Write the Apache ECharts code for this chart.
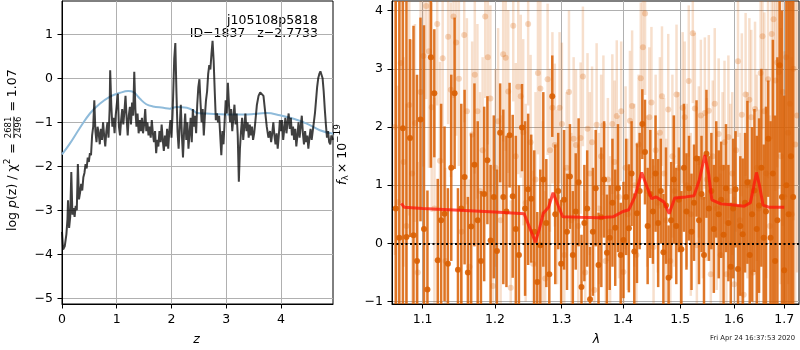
<!DOCTYPE html>
<html><head><meta charset="utf-8">
<script src="https://cdn.jsdelivr.net/npm/echarts@6/dist/echarts.min.js"></script>
<style>html,body{margin:0;padding:0;background:#fff}#c{width:800px;height:350px}</style>
</head><body><div id="c"></div>
<script>
// ---------- left panel: log p(z) ----------
const zGrid = [0.00,0.02,0.05,0.08,0.10,0.11,0.13,0.15,0.17,0.19,0.21,0.23,0.25,0.27,0.29,0.31,0.33,0.35,0.37,0.39,
0.41,0.43,0.45,0.47,0.49,0.51,0.53,0.55,0.57,0.59,0.61,0.63,0.65,0.67,0.69,0.71,0.73,0.75,0.77,0.79,
0.81,0.83,0.85,0.87,0.88,0.90,0.92,0.94,0.96,0.98,1.00,1.02,1.04,1.06,1.08,1.10,1.12,1.14,1.16,1.18,
1.20,1.22,1.24,1.26,1.28,1.30,1.32,1.34,1.36,1.38,1.40,1.42,1.44,1.46,1.48,1.50,1.52,1.54,1.56,1.58,
1.60,1.62,1.64,1.66,1.68,1.70,1.72,1.74,1.76,1.78,1.80,1.82,1.84,1.86,1.88,1.90,1.92,1.94,1.96,1.98,
2.00,2.02,2.03,2.05,2.07,2.09,2.11,2.13,2.15,2.17,2.19,
2.21,2.23,2.25,2.27,2.29,2.31,2.33,2.35,2.37,2.39,2.41,2.43,2.45,2.47,2.49,2.51,2.53,2.55,2.57,2.59,
2.61,2.63,2.65,2.67,2.69,2.71,2.73,2.75,2.77,2.79,2.81,2.83,2.85,2.87,2.89,2.91,2.93,2.95,2.97,2.99,
3.01,3.03,3.05,3.07,3.09,3.11,3.13,3.15,3.17,3.19,3.21,3.23,3.25,3.27,3.29,3.31,3.33,3.35,3.37,3.39,
3.41,3.43,3.45,3.47,3.49,3.51,3.53,3.56,3.59,3.62,3.65,3.68,3.71,3.74,3.77,3.80,3.82,3.84,3.86,3.88,
3.90,3.92,3.94,3.96,3.98,4.00,4.02,4.04,4.06,4.08,4.10,4.12,4.14,4.16,4.18,4.20,4.22,4.24,4.26,4.28,
4.30,4.32,4.34,4.36,4.38,4.40,4.42,4.44,4.46,4.48,4.50,4.52,4.54,4.56,4.58,4.60,4.62,4.64,4.66,4.68,
4.70,4.72,4.74,4.76,4.78,4.80,4.82,4.84,4.86,4.88,4.90,4.92,4.95];
const logPz = [-3.49,-3.89,-3.82,-3.55,-3.20,-2.77,-3.40,-3.15,-2.13,-3.10,-2.95,-3.15,-2.90,-3.00,-1.95,-2.75,-2.60,-2.40,-2.55,-2.25,
-2.15,-1.95,-2.05,-1.80,-1.90,-1.70,-1.75,-1.30,-1.10,-0.50,-1.20,-1.45,-1.10,-1.25,-1.50,-1.15,-1.40,-1.00,-1.30,-1.55,
-1.20,-1.00,-1.35,-0.70,0.18,-0.60,-1.10,-0.90,-1.25,-0.85,-0.60,-0.35,-1.10,-1.30,-0.95,-0.70,-1.05,-0.75,-0.40,-0.90,
-1.30,-0.85,-0.65,-1.05,-0.55,-0.85,0.15,-0.70,-1.10,-0.80,-1.25,-0.95,-1.20,-0.90,-1.25,-1.05,-0.70,-1.20,-1.00,-1.30,
-1.10,-1.35,-0.95,-1.25,-1.45,-1.20,-1.70,-1.40,-1.55,-1.20,-1.45,-1.05,-1.40,-1.65,-1.30,-1.55,-1.15,-1.60,-1.20,-0.95,
-1.35,-0.80,-0.40,0.45,0.80,-0.30,-1.20,-1.60,-1.10,-0.60,-1.30,
-1.80,-1.20,-0.80,-1.40,-1.00,-1.60,-1.25,-0.90,-1.45,-0.70,-1.10,-0.85,-1.25,-0.60,-0.20,-0.02,-0.55,-1.00,-0.70,-1.30,
-0.85,-0.50,-0.30,0.10,0.30,0.20,0.55,0.85,0.40,-0.30,-0.95,-0.80,-1.00,-0.85,-1.30,-1.75,-1.20,-1.50,-1.00,-0.50,
-0.80,-0.10,-0.60,-1.00,-0.70,-1.20,-0.90,-0.60,-1.05,-0.80,-1.30,-2.35,-1.60,-1.20,-0.90,-1.40,-1.10,-0.80,-1.20,-1.00,
-1.35,-1.05,-1.30,-1.10,-1.40,-1.25,-1.00,-0.60,-0.40,-0.32,-0.29,-0.40,-0.75,-1.10,-1.35,-1.20,-1.45,-1.25,-1.00,-1.30,
-1.50,-1.25,-1.60,-1.30,-0.95,-1.20,-0.95,-1.40,-1.15,-0.90,-1.25,-1.00,-0.80,-1.15,-0.90,-1.30,-1.10,-1.40,-1.15,-1.55,
-1.30,-1.00,-1.35,-1.10,-0.85,-1.25,-1.50,-1.20,-1.45,-1.30,-1.60,-1.35,-1.15,-1.40,-1.20,-1.00,-0.80,-0.50,-0.20,0.00,
0.10,0.16,0.14,0.00,-0.30,-0.70,-1.05,-1.35,-1.20,-1.45,-1.50,-1.30,-1.40];
const zSmooth = [0.00,0.14,0.32,0.51,0.69,0.87,1.06,1.21,1.30,1.42,1.54,1.66,1.85,1.97,2.09,2.28,2.40,2.46,2.64,3.01,3.37,3.74,3.98,4.23,4.47,4.71,4.95];
const logPzSmooth = [-1.73,-1.49,-1.14,-0.80,-0.58,-0.42,-0.33,-0.29,-0.31,-0.46,-0.59,-0.64,-0.67,-0.69,-0.65,-0.67,-0.73,-0.79,-0.80,-0.82,-0.82,-0.79,-0.84,-0.92,-1.03,-1.18,-1.26];
const zTicks = [0,1,2,3,4];
const pzTicks = [-5,-4,-3,-2,-1,0,1];

// ---------- right panel: spectrum ----------
const lamTicks = [1.1,1.2,1.3,1.4,1.5,1.6,1.7];
const fluxTicks = [-1,0,1,2,3,4];
const darkLam = [1.0650,1.0696,1.0742,1.0788,1.0834,1.0880,1.0926,1.0972,1.1018,1.1064,
1.1110,1.1156,1.1202,1.1248,1.1294,1.1340,1.1386,1.1432,1.1478,1.1524,
1.1570,1.1616,1.1662,1.1708,1.1754,1.1800,1.1846,1.1892,1.1938,1.1984,
1.2030,1.2076,1.2122,1.2168,1.2214,1.2260,1.2306,1.2352,1.2398,1.2444,
1.2490,1.2536,1.2582,1.2628,1.2674,1.2720,1.2766,1.2812,1.2858,1.2904,
1.2950,1.2996,1.3042,1.3088,1.3134,1.3180,1.3226,1.3272,1.3318,1.3364,
1.3410,1.3456,1.3502,1.3548,1.3594,1.3640,1.3686,1.3732,1.3778,1.3824,
1.3870,1.3916,1.3962,1.4008,1.4054,1.4100,1.4146,1.4192,1.4238,1.4284,
1.4330,1.4376,1.4422,1.4468,1.4514,1.4560,1.4606,1.4652,1.4698,1.4744,
1.4790,1.4836,1.4882,1.4928,1.4974,1.5020,1.5066,1.5112,1.5158,1.5204,
1.5250,1.5296,1.5342,1.5388,1.5434,1.5480,1.5526,1.5572,1.5618,1.5664,
1.5710,1.5756,1.5802,1.5848,1.5894,1.5940,1.5986,1.6032,1.6078,1.6124,
1.6170,1.6216,1.6262,1.6308,1.6354,1.6400,1.6446,1.6492,1.6538,1.6584,
1.6630,1.6676,1.6722,1.6768,1.6814,1.6860,1.6906,1.6952,1.6998,1.7044,
1.7090,1.7136,1.7182];
const darkFlux = [0.6,0.1,1.98,0.11,1.81,0.14,-0.3,2.13,0.25,-0.79,
3.2,2.58,-0.29,0.4,0.51,-0.35,1.3,2.58,-0.45,0.6,
1.14,-0.5,0.29,1.35,0.4,-0.3,0.85,1.43,0.05,0.8,
-0.13,1.9,0.8,0.55,1.86,0.81,0.25,-0.2,1.99,0.6,
0.93,0.77,0.2,-0.66,-0.03,1.1,0.35,-0.53,2.53,0.5,
0.9,-0.35,0.75,0.2,1.15,-0.2,0.55,1.05,-0.75,0.35,
0.6,-0.96,0.2,0.95,-0.37,0.45,1.1,-0.16,0.1,0.7,
0.27,0.95,-0.2,0.06,0.8,0.26,1.2,-0.14,0.52,0.9,
2.05,1.57,0.3,0.85,0.55,1.2,0.35,0.9,-0.15,0.65,
-0.59,0.4,1.1,0.3,0.75,-0.1,1.3,0.55,0.95,0.2,
0.7,1.46,0.4,0.85,-0.2,1.54,0.6,0.9,0.25,1.1,
0.5,0.75,0.15,0.95,0.35,-0.4,0.6,0.93,-0.44,0.3,
0.16,0.7,1.05,-0.2,0.5,0.91,0.25,0.65,1.3,0.1,
0.55,1.8,0.1,1.2,-0.3,0.4,3.06,0.8,-0.46,1.0,
0.5,1.5,0.8];
const darkErr = [4.8,4.5,3.5,4.2,1.7,3.6,3.2,1.75,3.5,1.7,
1.9,1.1,1.4,2.0,1.5,1.3,1.6,1.3,1.4,1.8,
1.5,1.3,1.6,1.4,1.7,1.2,1.5,1.1,1.3,1.4,
1.4,0.85,1.5,1.3,0.9,1.4,1.6,1.2,0.75,1.5,
1.3,1.1,1.4,1.2,1.3,1.5,1.1,1.3,0.7,1.2,
1.0,1.1,1.2,1.0,0.9,1.1,1.0,1.1,0.9,1.0,
1.0,0.9,1.1,1.0,0.9,1.2,1.0,1.0,0.9,1.1,
1.0,1.1,0.9,1.0,1.0,1.1,0.9,1.0,1.2,1.0,
0.6,0.9,1.0,1.1,0.9,1.0,1.1,0.9,1.0,1.0,
0.9,1.0,1.1,1.0,0.9,1.0,1.1,1.0,0.9,1.0,
1.0,1.0,1.1,1.0,1.0,1.1,0.9,1.0,1.1,1.0,
1.1,1.0,1.2,1.1,1.0,1.1,1.2,1.0,1.1,1.2,
1.3,1.2,1.4,1.3,1.5,1.4,1.6,1.5,1.7,1.6,
1.8,1.0,2.0,2.3,2.5,2.8,1.5,3.2,3.0,5.0,
5.0,5.0,5.0];
const lightLam = [1.0640,1.0677,1.0714,1.0751,1.0788,1.0825,1.0862,1.0899,1.0936,1.0973,
1.1010,1.1047,1.1084,1.1121,1.1158,1.1195,1.1232,1.1269,1.1306,1.1343,
1.1380,1.1417,1.1454,1.1491,1.1528,1.1565,1.1602,1.1639,1.1676,1.1713,
1.1750,1.1787,1.1824,1.1861,1.1898,1.1935,1.1972,1.2009,1.2046,1.2083,
1.2120,1.2157,1.2194,1.2231,1.2268,1.2305,1.2342,1.2379,1.2416,1.2453,
1.2490,1.2527,1.2564,1.2601,1.2638,1.2675,1.2712,1.2749,1.2786,1.2823,
1.2860,1.2897,1.2934,1.2971,1.3008,1.3045,1.3082,1.3119,1.3156,1.3193,
1.3230,1.3267,1.3304,1.3341,1.3378,1.3415,1.3452,1.3489,1.3526,1.3563,
1.3600,1.3637,1.3674,1.3711,1.3748,1.3785,1.3822,1.3859,1.3896,1.3933,
1.3970,1.4007,1.4044,1.4081,1.4118,1.4155,1.4192,1.4229,1.4266,1.4303,
1.4340,1.4377,1.4414,1.4451,1.4488,1.4525,1.4562,1.4599,1.4636,1.4673,
1.4710,1.4747,1.4784,1.4821,1.4858,1.4895,1.4932,1.4969,1.5006,1.5043,
1.5080,1.5117,1.5154,1.5191,1.5228,1.5265,1.5302,1.5339,1.5376,1.5413,
1.5450,1.5487,1.5524,1.5561,1.5598,1.5635,1.5672,1.5709,1.5746,1.5783,
1.5820,1.5857,1.5894,1.5931,1.5968,1.6005,1.6042,1.6079,1.6116,1.6153,
1.6190,1.6227,1.6264,1.6301,1.6338,1.6375,1.6412,1.6449,1.6486,1.6523,
1.6560,1.6597,1.6634,1.6671,1.6708,1.6745,1.6782,1.6819,1.6856,1.6893,
1.6930,1.6967,1.7004,1.7041,1.7078,1.7115,1.7152,1.7189,1.7226,1.7263];
const lightFlux = [2.0,0.71,3.1,1.4,0.3,2.38,1.2,2.07,-0.5,2.6,
3.22,4.08,3.3,2.34,0.6,3.77,1.42,3.18,-0.3,3.55,
2.64,3.9,3.45,2.83,0.2,3.58,2.27,-0.4,1.87,2.9,
2.27,0.9,1.6,3.9,3.2,2.49,-0.73,1.3,2.1,0.4,
3.25,3.19,2.61,-0.76,3.74,1.5,2.69,2.53,1.91,0.7,
3.77,1.74,-0.35,1.1,2.93,2.66,0.5,-0.6,2.82,1.6,
2.33,1.69,0.8,2.33,2.05,-0.2,1.3,2.6,0.4,1.8,
1.69,0.3,1.81,2.87,-0.5,1.97,1.2,1.74,-0.8,2.04,
0.6,1.5,2.03,-0.3,1.1,0.2,2.05,1.4,2.19,0.8,
2.27,-0.49,1.3,0.5,2.11,2.36,1.0,-0.2,1.7,2.84,
3.37,3.95,0.9,2.17,2.42,-0.06,1.6,0.7,1.9,2.53,
1.2,0.4,2.30,-0.3,1.5,0.9,2.56,1.3,-0.1,2.33,
2.17,1.0,2.79,0.5,3.61,2.32,-0.03,1.4,2.2,0.8,
2.24,1.1,2.28,-0.53,1.5,2.4,0.6,1.88,-0.2,1.3,
1.74,-0.53,1.83,0.9,1.2,-0.7,1.6,3.13,0.4,2.21,
-0.88,2.56,1.0,2.47,2.17,-0.5,2.31,1.3,0.6,2.93,
3.56,2.27,1.2,2.82,0.3,3.6,3.85,2.80,3.11,2.94,
1.5,2.6,0.8,3.2,1.9,2.4,0.5,3.0,1.7,2.2];
const lightErr = [2.2,2.0,2.4,1.8,2.1,1.9,2.3,1.7,1.9,2.0,
1.9,1.6,2.0,1.8,1.9,1.4,1.7,1.8,1.6,1.5,
1.5,1.4,1.6,1.5,1.8,1.5,1.6,1.5,1.6,1.7,
1.5,1.7,1.6,1.4,1.5,1.6,1.5,1.7,1.6,1.8,
1.5,1.6,1.4,1.5,1.3,1.6,1.5,1.4,1.6,1.7,
1.4,1.5,1.6,1.5,1.4,1.5,1.6,1.5,1.3,1.4,
1.3,1.4,1.5,1.3,1.4,1.5,1.3,1.4,1.5,1.4,
1.3,1.4,1.3,1.2,1.4,1.3,1.4,1.3,1.3,1.4,
1.3,1.4,1.2,1.3,1.4,1.3,1.2,1.4,1.3,1.4,
1.2,1.3,1.4,1.3,1.2,1.3,1.4,1.3,1.2,1.3,
1.3,1.4,1.3,1.2,1.3,1.4,1.3,1.2,1.3,1.2,
1.3,1.4,1.3,1.3,1.4,1.3,1.2,1.3,1.4,1.3,
1.3,1.4,1.3,1.4,1.2,1.3,1.4,1.3,1.3,1.4,
1.3,1.4,1.3,1.4,1.3,1.3,1.4,1.3,1.4,1.3,
1.4,1.3,1.4,1.5,1.4,1.5,1.4,1.3,1.5,1.4,
1.5,1.4,1.6,1.4,1.5,1.6,1.5,1.6,1.7,1.5,
1.6,1.7,1.8,1.7,1.9,1.8,1.7,1.9,1.8,2.0,
2.2,2.3,2.5,2.4,2.6,2.5,2.7,2.6,2.8,2.7];
const modelLam = [1.072,1.076,1.10,1.15,1.20,1.243,1.252,1.260,1.266,1.272,1.280,1.287,1.295,1.302,1.33,1.36,1.384,1.40,1.41,1.42,
1.432,1.44,1.449,1.457,1.471,1.48,1.49,1.51,1.525,1.535,1.545,1.552,1.558,1.575,1.60,1.62,1.632,1.638,1.644,1.65,1.657,1.67,1.70];
const modelFlux = [0.69,0.62,0.60,0.57,0.54,0.51,0.25,0.02,0.25,0.52,0.62,0.87,0.65,0.46,0.45,0.44,0.46,0.55,0.58,0.80,
1.22,1.00,0.77,0.80,0.71,0.51,0.78,0.80,0.82,1.10,1.52,1.20,0.75,0.68,0.66,0.64,0.70,0.95,1.22,1.00,0.66,0.62,0.62];

// ---------- helpers ----------
const FF = '"DejaVu Sans"';
const mctx = document.createElement('canvas').getContext('2d');
function tw(t, font) { mctx.font = font; return mctx.measureText(t).width; }
const fmtNum = v => String(v).replace('-', '\u2212');

function mkAxis(o) {
  const base = {
    axisLine: {show: true, onZero: false, lineStyle: {color: '#000', width: 1}},
    axisTick: {show: true, length: 4.5, lineStyle: {color: '#000', width: 1}, customValues: o.ticks},
    axisLabel: {color: '#000', fontSize: 12.5, fontFamily: 'DejaVu Sans', margin: 9, customValues: o.ticks,
                formatter: o.fmt || fmtNum, hideOverlap: false, showMinLabel: true, showMaxLabel: true},
    splitLine: {show: true, lineStyle: {color: '#b0b0b0', width: 1}},
  };
  delete o.ticks; delete o.fmt;
  return Object.assign(base, o);
}

function errRender(barColor, markColor, lw, r) {
  return function (params, api) {
    const x = api.value(0), y = api.value(1), e = api.value(2);
    const lo = api.coord([x, y - e]), hi = api.coord([x, y + e]), c = api.coord([x, y]);
    return {type: 'group', children: [
      {type: 'line', shape: {x1: lo[0], y1: lo[1], x2: hi[0], y2: hi[1]}, style: {stroke: barColor, lineWidth: lw}},
      {type: 'circle', shape: {cx: c[0], cy: c[1], r: r}, style: {fill: markColor}}
    ]};
  };
}

// ---------- axis-title graphics ----------
const F = '12.5px ' + FF, FI = 'italic 12.5px ' + FF, FS = '9px ' + FF, FR = '8.5px ' + FF;
function leftLabel() {
  const ch = []; let x = 0;
  const add = (t, font, dy) => { ch.push({type: 'text', x: x, y: dy || 0, style: {text: t, font: font, fill: '#000', align: 'left', verticalAlign: 'middle'}}); x += tw(t, font); };
  add('log ', F); add('p', FI); add('(z) / \u03c7', F);
  add('2', FS, -5); x += 1;
  add(' = ', F);
  const fw = Math.max(tw('2681', FR), tw('2496', FR)) + 2;
  const cx = x + fw / 2;
  ch.push({type: 'text', x: cx, y: -4.5, style: {text: '2681', font: FR, fill: '#000', align: 'center', verticalAlign: 'middle'}});
  ch.push({type: 'text', x: cx, y: 5.5, style: {text: '2496', font: FR, fill: '#000', align: 'center', verticalAlign: 'middle'}});
  ch.push({type: 'line', shape: {x1: x + 1, y1: 0.8, x2: x + fw - 1, y2: 0.8}, style: {stroke: '#000', lineWidth: 0.8}});
  x += fw;
  add(' = 1.07', F);
  return {type: 'group', x: 13, y: 231, rotation: Math.PI / 2, children: ch, silent: true};
}
function rightLabel() {
  const ch = []; let x = 0;
  const add = (t, font, dy) => { ch.push({type: 'text', x: x, y: dy || 0, style: {text: t, font: font, fill: '#000', align: 'left', verticalAlign: 'middle'}}); x += tw(t, font); };
  add('f', FI); add('\u03bb', FS, 3); x += 2;
  add('\u00d7 10', F); add('\u221219', FS, -5);
  return {type: 'group', x: 343, y: 185, rotation: Math.PI / 2, children: ch, silent: true};
}

const chart = echarts.init(document.getElementById('c'), null, {renderer: 'canvas'});
const option = {
  animation: false,
  grid: [
    {left: 62, top: 1, width: 271, height: 303, show: true, borderColor: '#000', borderWidth: 1, backgroundColor: 'transparent'},
    {left: 392, top: 1, width: 407, height: 303, show: true, borderColor: '#000', borderWidth: 1, backgroundColor: 'transparent'}
  ],
  xAxis: [
    mkAxis({gridIndex: 0, type: 'value', min: 0, max: 4.95, ticks: zTicks}),
    mkAxis({gridIndex: 1, type: 'log', logBase: 10, min: 1.0602, max: 1.7304, ticks: lamTicks, fmt: v => Number(v).toFixed(1)})
  ],
  yAxis: [
    mkAxis({gridIndex: 0, type: 'value', min: -5.13, max: 1.757, ticks: pzTicks}),
    mkAxis({gridIndex: 1, type: 'value', min: -1.04, max: 4.165, ticks: fluxTicks})
  ],
  graphic: [
    leftLabel(), rightLabel(),
    {type: 'text', x: 196.5, y: 340, silent: true, style: {text: 'z', font: FI, fill: '#000', align: 'center', verticalAlign: 'middle'}},
    {type: 'text', x: 596.5, y: 340, silent: true, style: {text: '\u03bb', font: FI, fill: '#000', align: 'center', verticalAlign: 'middle'}},
    {type: 'text', x: 318, y: 20.5, silent: true, style: {text: 'j105108p5818', font: F, fill: '#000', align: 'right', verticalAlign: 'middle'}},
    {type: 'text', x: 318, y: 34, silent: true, style: {text: 'ID=1837   z=2.7733', font: F, fill: '#000', align: 'right', verticalAlign: 'middle'}},
    {type: 'text', x: 795, y: 338, silent: true, style: {text: 'Fri Apr 24 16:37:53 2020', font: '6.8px ' + FF, fill: '#222', align: 'right', verticalAlign: 'middle'}}
  ],
  series: [
    {type: 'line', xAxisIndex: 0, yAxisIndex: 0, data: zSmooth.map((z, i) => [z, logPzSmooth[i]]), smooth: 0.4,
     showSymbol: false, symbol: 'none', lineStyle: {color: '#8fbbda', width: 2}, z: 2, silent: true},
    {type: 'line', xAxisIndex: 0, yAxisIndex: 0, data: zGrid.map((z, i) => [z, logPz[i]]),
     showSymbol: false, symbol: 'none', lineStyle: {color: 'rgba(0,0,0,0.75)', width: 2}, z: 3, silent: true},
    {type: 'custom', xAxisIndex: 1, yAxisIndex: 1, clip: true, silent: true, z: 2,
     data: lightLam.map((l, i) => [l, lightFlux[i], lightErr[i]]), encode: {x: 0, y: 1},
     renderItem: errRender('rgba(217,95,2,0.2)', 'rgba(217,95,2,0.25)', 2.5, 3)},
    {type: 'custom', xAxisIndex: 1, yAxisIndex: 1, clip: true, silent: true, z: 3,
     data: darkLam.map((l, i) => [l, darkFlux[i], darkErr[i]]), encode: {x: 0, y: 1},
     renderItem: errRender('rgba(217,95,2,0.85)', 'rgba(217,95,2,0.9)', 2.5, 3)},
    {type: 'line', xAxisIndex: 1, yAxisIndex: 1, data: modelLam.map((l, i) => [l, modelFlux[i]]),
     showSymbol: false, symbol: 'none', lineStyle: {color: 'rgba(255,20,10,0.75)', width: 3}, z: 4, silent: true,
     markLine: {silent: true, symbol: 'none', label: {show: false}, lineStyle: {color: '#000', type: [2, 2.5], width: 2},
                data: [{yAxis: 0}]}}
  ]
};
chart.setOption(option);
</script>
</body></html>
